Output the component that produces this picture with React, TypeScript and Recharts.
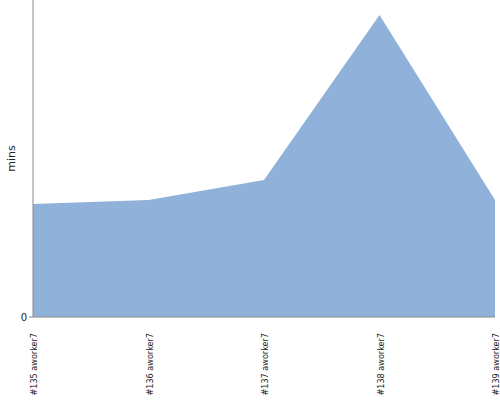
import { AreaChart, Area, XAxis, YAxis } from "recharts";

// categories on the x axis
const runs = ["#135 aworker7", "#136 aworker7", "#137 aworker7", "#138 aworker7", "#139 aworker7"];
// duration per run (mins); scale, no ticks other than 0
const mins = [113, 117, 137, 302, 117];
const yMax = 317;
const yTicks = [0];

const data = runs.map((run, i) => ({ run, mins: mins[i] }));

const AXIS = "#8a8a8a";

function RunTick(props: any) {
  const { x, payload } = props;
  return (
    <g transform={`translate(${x},333)`}>
      <text
        x={0}
        y={0}
        dy={4}
        textAnchor="end"
        transform="rotate(-90)"
        fontSize={9}
        fontFamily="DejaVu Sans Condensed, DejaVu Sans, sans-serif"
        fill="#222"
      >
        {payload.value}
      </text>
    </g>
  );
}

function MinsLabel(props: any) {
  const { viewBox } = props;
  const cy = viewBox.y + viewBox.height / 2;
  return (
    <text
      x={0}
      y={0}
      transform={`translate(${viewBox.x + 15},${cy}) rotate(-90)`}
      textAnchor="middle"
      fontSize={11}
      fontFamily="DejaVu Sans, sans-serif"
      fill="#222"
    >
      mins
    </text>
  );
}

export default function App() {
  return (
    <div style={{ width: 500, height: 400 }}>
      <style>{`body{margin:0}`}</style>
      <AreaChart
        width={500}
        height={400}
        data={data}
        margin={{ top: 0, right: 5, left: 0, bottom: 0 }}
      >
        <XAxis
          dataKey="run"
          height={83}
          interval={0}
          axisLine={{ stroke: AXIS }}
          tickLine={false}
          tick={<RunTick />}
        />
        <YAxis
          width={33}
          domain={[0, yMax]}
          ticks={yTicks}
          axisLine={{ stroke: AXIS }}
          tickLine={{ stroke: AXIS }}
          tickSize={4}
          tickMargin={2}
          tick={{ fontSize: 10, fill: "#222", fontFamily: "DejaVu Sans, sans-serif" }}
          label={<MinsLabel />}
        />
        <Area
          type="linear"
          dataKey="mins"
          stroke="none"
          fill="#8FB1DA"
          fillOpacity={1}
          isAnimationActive={false}
        />
      </AreaChart>
    </div>
  );
}
